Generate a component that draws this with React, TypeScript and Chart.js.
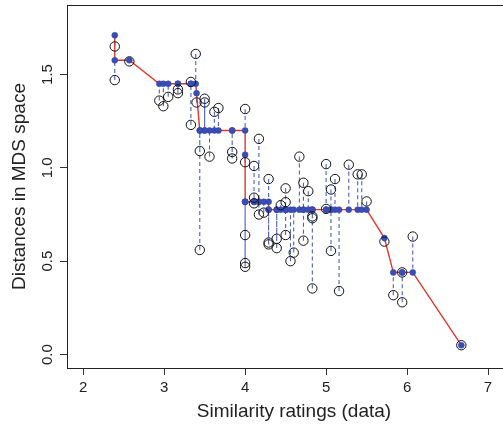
import React, { useEffect, useRef } from 'react';
import { Chart, registerables } from 'chart.js';

Chart.register(...registerables);

// Similarity rating (data) for each pair of objects
const similarity = [
  2.39, 2.39, 2.57,
  2.94, 2.99, 3.05, 3.17, 3.17, 3.33, 3.33, 3.39, 3.40,
  3.44, 3.44, 3.50, 3.50, 3.56, 3.62, 3.67, 3.84, 3.84,
  4.00, 4.00, 4.00, 4.00, 4.00,
  4.11, 4.11, 4.11, 4.17, 4.17, 4.23, 4.29, 4.29, 4.29,
  4.39, 4.39, 4.44, 4.50, 4.50, 4.50, 4.56, 4.60, 4.67, 4.72, 4.72, 4.78,
  4.83, 4.83, 4.83, 5.00, 5.00, 5.06, 5.06, 5.11, 5.16, 5.28, 5.39, 5.44, 5.50,
  5.72, 5.83, 5.94, 5.94, 6.07, 6.67,
];

// Distances in the MDS configuration (open circles)
const mdsDistance = [
  1.65, 1.47, 1.57,
  1.36, 1.33, 1.38, 1.42, 1.40, 1.46, 1.23, 1.61, 1.35,
  1.09, 0.56, 1.37, 1.35, 1.06, 1.30, 1.32, 1.085, 1.05,
  1.315, 1.03, 0.64, 0.49, 0.47,
  1.01, 0.84, 0.81, 1.155, 0.75, 0.76, 0.94, 0.60, 0.59,
  0.62, 0.57, 0.80, 0.89, 0.816, 0.64, 0.50, 0.546, 1.06, 0.92, 0.61, 0.875,
  0.74, 0.73, 0.354, 1.02, 0.78, 0.884, 0.555, 0.94, 0.34, 1.017, 0.965, 0.965, 0.82,
  0.605, 0.318, 0.44, 0.28, 0.632, 0.05,
];

// Monotone (isotonic) fitted distances (filled dots on the red step line)
const fittedDistance = [
  1.71, 1.576, 1.576,
  1.45, 1.45, 1.45, 1.45, 1.45, 1.45, 1.45, 1.45, 1.40,
  1.20, 1.20, 1.20, 1.20, 1.20, 1.20, 1.20, 1.20, 1.20,
  1.20, 1.07, 0.818, 0.818, 0.818,
  0.818, 0.818, 0.818, 0.818, 0.818, 0.818, 0.818, 0.776, 0.776,
  0.776, 0.776, 0.776, 0.776, 0.776, 0.776, 0.776, 0.776, 0.776, 0.776, 0.776, 0.776,
  0.776, 0.776, 0.776, 0.776, 0.776, 0.776, 0.776, 0.776, 0.776, 0.776, 0.776, 0.776, 0.776,
  0.624, 0.44, 0.44, 0.44, 0.44, 0.05,
];

const xTicks = [2, 3, 4, 5, 6, 7];
const yTicks = [0, 0.5, 1.0, 1.5];
const xTitle = 'Similarity ratings (data)';
const yTitle = 'Distances in MDS space';

const FONT = "'Liberation Sans', Arial, Helvetica, sans-serif";

export default function App() {
  const ref = useRef<HTMLCanvasElement>(null);

  useEffect(() => {
    if (!ref.current) return;
    const obsPts = similarity.map((x, i) => ({ x, y: mdsDistance[i] }));
    const fitPts = similarity.map((x, i) => ({ x, y: fittedDistance[i] }));
    const segPts: any[] = [];
    similarity.forEach((x, i) => {
      segPts.push({ x, y: mdsDistance[i] }, { x, y: fittedDistance[i] }, { x, y: null });
    });

    // The plot region of the original runs past the right edge of the picture.
    const extendPlugin = {
      id: 'extendX',
      afterLayout(chart: any) {
        const s = chart.scales.x;
        s.right = s.left + 454;
        s.width = s.right - s.left;
        s.configure();
      },
    };

    const boxPlugin = {
      id: 'box',
      afterDraw(chart: any) {
        const { ctx, chartArea: a } = chart;
        ctx.save();
        ctx.strokeStyle = '#222';
        ctx.lineWidth = 1;
        ctx.strokeRect(Math.round(a.left) + 0.5, Math.round(a.top) + 0.5, a.right - a.left + 30, a.bottom - a.top);
        ctx.restore();
      },
    };

    const noPad = (s: any) => {
      s.paddingLeft = 0;
      s.paddingRight = 0;
      s.paddingTop = 0;
      s.paddingBottom = 0;
    };

    const chart = new Chart(ref.current, {
      type: 'scatter',
      data: {
        datasets: [
          {
            label: 'MDS distances',
            data: obsPts,
            pointStyle: 'circle',
            pointRadius: 4.7,
            pointBorderWidth: 1,
            pointBorderColor: '#111',
            pointBackgroundColor: 'rgba(0,0,0,0)',
            showLine: false,
          },
          {
            label: 'Fitted',
            data: fitPts,
            pointRadius: 3,
            pointBorderWidth: 0.5,
            pointBorderColor: '#3547ad',
            pointBackgroundColor: '#3a4db5',
            showLine: false,
          },
          {
            label: 'Step',
            data: fitPts,
            pointRadius: 0,
            showLine: true,
            borderColor: '#e5352c',
            borderWidth: 1.4,
            tension: 0,
          },
          {
            label: 'Residuals',
            data: segPts,
            pointRadius: 0,
            showLine: true,
            spanGaps: false,
            borderColor: '#4a5fc8',
            borderWidth: 1.1,
            borderDash: [4, 3],
          },
        ],
      },
      options: {
        animation: false,
        responsive: false,
        events: [],
        layout: { autoPadding: false, padding: { top: 5, left: 0, right: 0, bottom: 0 } },
        plugins: {
          legend: { display: false },
          tooltip: { enabled: false },
        },
        scales: {
          x: {
            type: 'linear',
            min: 1.8,
            max: 7.407,
            afterBuildTicks: (s: any) => {
              s.ticks = xTicks.map((v) => ({ value: v }));
            },
            afterFit: (s: any) => {
              s.height = 56;
              noPad(s);
            },
            grid: { display: true, drawOnChartArea: false, drawTicks: true, tickLength: 7, tickColor: '#333', tickWidth: 1 },
            border: { display: false },
            ticks: {
              padding: 4,
              color: '#222',
              font: { family: FONT, size: 15 },
              maxRotation: 0,
              autoSkip: false,
              callback: (v: any) => String(v),
            },
            title: {
              display: true,
              text: xTitle,
              color: '#222',
              font: { family: FONT, size: 19 },
              padding: { top: 0, bottom: 1 },
            },
          },
          y: {
            type: 'linear',
            min: -0.072,
            max: 1.872,
            afterBuildTicks: (s: any) => {
              s.ticks = yTicks.map((v) => ({ value: v }));
            },
            afterFit: (s: any) => {
              s.width = 67;
              noPad(s);
            },
            grid: { display: true, drawOnChartArea: false, drawTicks: true, tickLength: 7, tickColor: '#333', tickWidth: 1 },
            border: { display: false },
            ticks: {
              padding: 2,
              color: '#222',
              font: { family: FONT, size: 15 },
              minRotation: 90,
              maxRotation: 90,
              crossAlign: 'center',
              autoSkip: false,
              callback: (v: any) => Number(v).toFixed(1),
            },
            title: {
              display: true,
              text: yTitle,
              color: '#222',
              font: { family: FONT, size: 19 },
              padding: { top: 8, bottom: 0 },
            },
          },
        },
      } as any,
      plugins: [extendPlugin, boxPlugin],
    });

    return () => chart.destroy();
  }, []);

  return (
    <div style={{ position: 'absolute', left: 0, top: 0, width: 503, height: 424, background: '#fff' }}>
      <canvas ref={ref} width={503} height={424} style={{ display: 'block' }} />
    </div>
  );
}
